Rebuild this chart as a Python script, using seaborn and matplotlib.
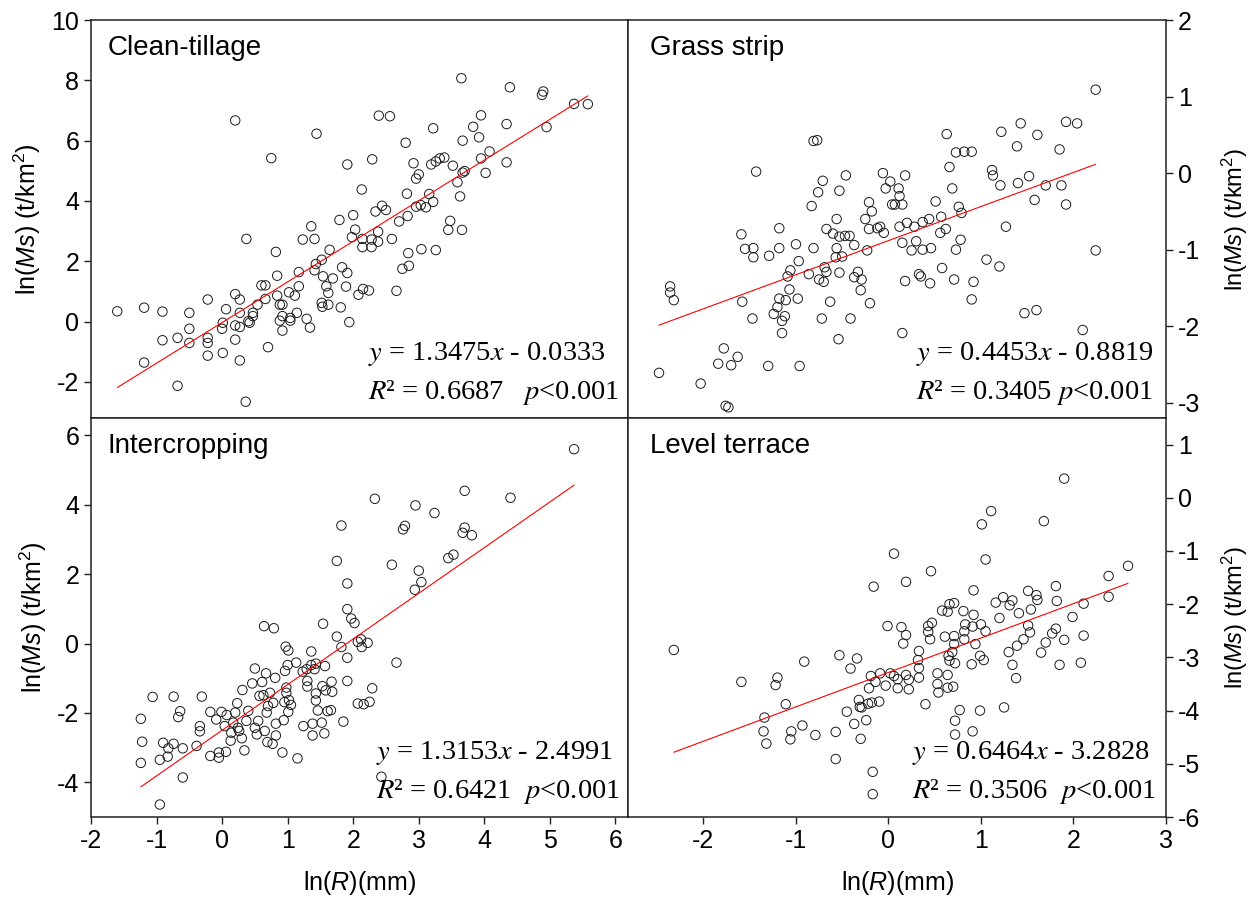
import numpy as np
import pandas as pd
import matplotlib
matplotlib.use('Agg')
import matplotlib.pyplot as plt
import seaborn as sns

# ln(R), ln(Ms) pairs
clean_tillage = [
    (-1.60, 0.34), (-1.19, 0.46), (-1.19, -1.36), (-0.91, 0.33), (-0.91, -0.62), (-0.68, -0.54),
    (-0.68, -2.13), (-0.50, 0.29), (-0.50, -0.24), (-0.50, -0.71), (-0.22, 0.73), (-0.22, -0.54),
    (-0.22, -0.71), (-0.22, -1.13), (0.01, -1.04), (0.00, -0.24), (0.01, -0.04), (0.06, 0.41),
    (0.20, 6.67), (0.20, 0.91), (0.20, -0.13), (0.20, -0.60), (0.27, 0.73), (0.27, 0.29),
    (0.27, -0.18), (0.27, -1.29), (0.36, -2.66), (0.37, 2.74), (0.40, 0.01), (0.42, -0.04),
    (0.47, 0.29), (0.47, 0.18), (0.54, 0.56), (0.60, 1.20), (0.66, 0.75), (0.66, 1.20),
    (0.70, -0.85), (0.75, 5.42), (0.82, 2.31), (0.84, 1.52), (0.84, 0.86), (0.88, 0.56),
    (0.92, 0.56), (0.88, 0.03), (0.92, -0.30), (0.92, 0.18), (1.02, 0.97), (1.04, 0.03),
    (1.04, 0.12), (1.11, 0.86), (1.14, 0.29), (1.17, 1.17), (1.17, 1.64), (1.23, 2.72),
    (1.29, 0.09), (1.34, -0.20), (1.36, 3.16), (1.41, 2.74), (1.44, 6.23), (1.43, 1.91),
    (1.41, 1.70), (1.52, 2.05), (1.54, 1.50), (1.52, 0.62), (1.53, 0.49), (1.59, 1.17),
    (1.62, 0.95), (1.62, 0.56), (1.64, 2.38),
    (3.65, 8.07), (4.39, 7.77), (4.90, 7.63), (4.88, 7.52), (5.37, 7.22), (5.58, 7.21),
    (4.95, 6.45), (2.39, 6.83), (2.56, 6.81), (3.22, 6.41), (3.95, 6.84), (3.83, 6.46),
    (4.34, 6.55), (2.80, 5.93), (3.67, 6.00), (3.92, 6.11), (1.91, 5.21), (2.29, 5.38),
    (2.92, 5.25), (3.19, 5.21), (3.26, 5.31), (3.32, 5.41), (3.39, 5.44), (3.52, 5.17),
    (3.95, 5.41), (4.08, 5.64), (4.34, 5.28), (3.00, 4.88), (2.96, 4.74), (3.70, 4.99),
    (3.67, 4.94), (4.02, 4.93), (3.59, 4.62), (2.13, 4.38), (2.82, 4.24), (3.16, 4.23),
    (3.63, 4.15), (2.34, 3.65), (2.44, 3.84), (2.50, 3.70), (2.96, 3.81), (3.03, 3.86),
    (3.11, 3.79), (3.22, 3.97), (1.79, 3.37), (2.00, 3.53), (2.83, 3.50), (2.70, 3.32),
    (2.03, 3.05), (1.98, 2.80), (2.38, 2.98), (2.59, 2.74), (2.14, 2.74), (2.14, 2.47),
    (2.28, 2.72), (2.28, 2.47), (2.38, 2.65), (3.48, 3.34), (3.45, 3.04), (3.66, 3.04),
    (2.84, 2.27), (3.04, 2.40), (3.26, 2.37), (2.85, 1.85), (2.75, 1.75), (1.83, 1.80),
    (1.91, 1.61), (1.69, 1.43), (1.89, 1.16), (2.15, 1.08), (2.08, 0.89), (2.24, 1.03),
    (2.66, 1.02), (1.81, 0.47), (1.94, -0.02),
]

grass_strip = [
    (-2.48, -2.61), (-2.36, -1.48), (-2.36, -1.56), (-2.32, -1.66), (-2.03, -2.75), (-1.78, -2.29),
    (-1.84, -2.49), (-1.70, -2.51), (-1.63, -2.40), (-1.76, -3.04), (-1.73, -3.06), (-1.59, -0.80),
    (-1.55, -0.99), (-1.46, -0.98), (-1.46, -1.10), (-1.58, -1.68), (-1.47, -1.90), (-1.43, 0.02),
    (-1.29, -1.08), (-1.30, -2.52), (-1.18, -0.72), (-1.18, -0.98), (-1.18, -1.64), (-1.20, -1.75),
    (-1.24, -1.84), (-1.11, -1.66), (-1.12, -1.87), (-1.15, -1.93), (-1.15, -2.09), (-1.06, -1.27),
    (-1.09, -1.35), (-1.07, -1.52), (-1.00, -0.93), (-0.97, -1.15), (-0.98, -1.64), (-0.96, -2.52),
    (-0.86, -1.32), (-0.83, -0.43), (-0.81, 0.42), (-0.77, 0.43), (-0.76, -0.25), (-0.71, -0.10),
    (-0.81, -0.98), (-0.69, -1.23), (-0.67, -1.29), (-0.75, -1.39), (-0.70, -1.42), (-0.72, -1.90),
    (-0.63, -1.68), (-0.67, -0.73), (-0.60, -0.79), (-0.53, -0.23), (-0.56, -0.60), (-0.53, -0.83),
    (-0.46, -0.03), (-0.47, -0.82), (-0.42, -0.82), (-0.56, -0.98), (-0.57, -1.10), (-0.50, -1.09),
    (-0.53, -1.30), (-0.54, -2.17), (-0.41, -1.90), (-0.37, -0.94), (-0.37, -1.36), (-0.33, -1.29),
    (-0.29, -1.39), (-0.30, -1.53), (-0.20, -1.70), (-0.21, -0.38), (-0.18, -0.50), (-0.25, -0.60),
    (-0.21, -0.73), (-0.23, -1.01), (-0.12, -0.72), (-0.09, -0.70), (-0.06, 0.00), (0.02, -0.11),
    (-0.03, -0.20), (0.04, -0.41), (-0.05, -0.78),
    (2.24, 1.09), (1.92, 0.67), (2.04, 0.65), (1.43, 0.65), (1.22, 0.54), (1.61, 0.50),
    (0.63, 0.51), (1.39, 0.35), (1.85, 0.31), (0.73, 0.27), (0.82, 0.28), (0.90, 0.28),
    (0.66, 0.08), (1.12, 0.04), (1.13, -0.03), (1.52, -0.04), (0.18, -0.03), (1.21, -0.16),
    (1.40, -0.13), (1.70, -0.16), (1.87, -0.16), (0.69, -0.20), (0.11, -0.20), (0.12, -0.30),
    (0.15, -0.41), (0.07, -0.41), (0.51, -0.37), (1.58, -0.35), (1.92, -0.41), (0.76, -0.44),
    (0.79, -0.52), (0.57, -0.57), (0.44, -0.60), (0.37, -0.64), (0.28, -0.70), (0.20, -0.65),
    (0.12, -0.70), (0.62, -0.73), (0.56, -0.78), (1.27, -0.70), (0.15, -0.91), (0.30, -0.89),
    (0.25, -1.01), (0.37, -1.00), (0.46, -0.98), (0.78, -0.87), (0.73, -1.00), (2.24, -1.01),
    (1.06, -1.13), (1.20, -1.22), (0.58, -1.24), (0.33, -1.32), (0.35, -1.35), (0.18, -1.41),
    (0.45, -1.44), (0.71, -1.39), (0.92, -1.42), (0.90, -1.65), (1.47, -1.83), (1.60, -1.79),
    (2.10, -2.05), (0.15, -2.09),
]

intercropping = [
    (-1.24, -2.17), (-1.22, -2.83), (-1.24, -3.44), (-1.06, -1.54), (-0.95, -3.35), (-0.95, -4.64),
    (-0.90, -2.86), (-0.82, -3.02), (-0.83, -3.26), (-0.74, -1.53), (-0.74, -2.89), (-0.64, -1.95),
    (-0.67, -2.12), (-0.60, -3.02), (-0.60, -3.86), (-0.39, -2.95), (-0.34, -2.38), (-0.34, -2.53),
    (-0.31, -1.53), (-0.18, -1.97), (-0.18, -3.24), (-0.09, -2.19), (-0.05, -3.29), (-0.05, -3.14),
    (-0.01, -1.97), (0.04, -2.38), (0.06, -3.12), (0.07, -2.06), (0.14, -2.57), (0.13, -2.80),
    (0.17, -2.28), (0.20, -1.99), (0.23, -1.72), (0.24, -2.43), (0.26, -2.52), (0.30, -2.73),
    (0.34, -3.08), (0.37, -2.23), (0.40, -1.94), (0.31, -1.34), (0.46, -1.15), (0.50, -0.72),
    (0.50, -2.43), (0.53, -2.62), (0.55, -2.23), (0.57, -1.51), (0.61, -1.11), (0.63, -1.49),
    (0.64, 0.50), (0.65, -2.52), (0.67, -0.86), (0.68, -1.99), (0.69, -2.84), (0.70, -1.80),
    (0.73, -1.42), (0.77, -2.89), (0.79, 0.44), (0.78, -1.71), (0.82, -2.31), (0.82, -2.65),
    (0.81, -0.99), (0.92, -3.14), (0.94, -2.21), (0.96, -0.79), (0.97, -0.09), (1.01, -0.20),
    (0.98, -1.27), (0.98, -1.42), (1.00, -0.62), (0.95, -1.69), (1.02, -1.63), (1.05, -1.77),
    (1.01, -1.97), (1.13, -0.55), (1.15, -3.31), (1.23, -0.81), (1.24, -2.38), (1.29, -0.74),
    (1.30, -1.08), (1.30, -1.24), (1.36, -0.23), (1.36, -0.62), (1.38, -2.31), (1.38, -2.65),
    (1.41, -0.74), (1.43, -1.44), (1.43, -1.64), (1.43, -0.58), (1.46, -1.93), (1.52, -2.28),
    (1.53, -1.23), (1.54, 0.57), (1.57, -0.65), (1.56, -2.59), (1.58, -1.35), (1.61, -1.95),
    (5.37, 5.60), (3.70, 4.40), (4.40, 4.20), (2.33, 4.17), (2.95, 3.98), (3.24, 3.76),
    (1.82, 3.40), (2.79, 3.39), (2.76, 3.29), (3.70, 3.34), (3.67, 3.19), (3.81, 3.12),
    (3.45, 2.46), (3.53, 2.56), (1.75, 2.38), (2.59, 2.27), (3.00, 2.10), (3.04, 1.77),
    (2.94, 1.55), (1.91, 1.73), (1.91, 0.99), (1.97, 0.72), (2.02, 0.59), (1.75, 0.20),
    (1.82, -0.10), (2.07, 0.05), (2.12, 0.12), (2.13, -0.10), (2.22, 0.02), (1.91, -0.41),
    (2.66, -0.55), (1.67, -1.10), (1.68, -1.39), (1.91, -1.08), (2.29, -1.29), (2.07, -1.73),
    (2.16, -1.75), (2.25, -1.68), (1.66, -1.92), (1.85, -2.25), (2.43, -3.84),
]

level_terrace = [
    (-2.32, -2.86), (-1.59, -3.46), (-1.20, -3.38), (-1.22, -3.52), (-1.11, -3.88), (-1.34, -4.13),
    (-1.35, -4.39), (-1.32, -4.62), (-1.05, -4.39), (-1.06, -4.54), (-0.93, -4.28), (-0.91, -3.08),
    (-0.79, -4.46), (-0.57, -4.40), (-0.57, -4.91), (-0.53, -2.96), (-0.41, -3.21), (-0.34, -3.02),
    (-0.45, -4.02), (-0.37, -4.25), (-0.30, -4.53), (-0.24, -4.18), (-0.32, -3.80), (-0.31, -3.93),
    (-0.29, -3.94), (-0.22, -3.87), (-0.18, -3.85), (-0.10, -3.83), (-0.21, -3.58), (-0.19, -3.35),
    (-0.14, -3.46), (-0.09, -3.30), (-0.03, -3.53), (0.02, -3.30), (0.06, -3.35), (-0.16, -1.67),
    (-0.01, -2.41), (-0.17, -5.15), (-0.17, -5.57), (0.06, -1.05),
    (1.90, 0.36), (1.11, -0.25), (1.01, -0.50), (1.68, -0.44), (1.05, -1.16), (2.59, -1.28),
    (2.38, -1.47), (0.46, -1.38), (0.19, -1.58), (2.38, -1.86), (1.81, -1.66), (0.92, -1.74),
    (1.51, -1.75), (1.60, -1.83), (1.61, -1.92), (1.82, -1.94), (2.11, -1.99), (1.24, -1.87),
    (1.34, -1.93), (1.16, -1.97), (1.31, -2.02), (1.54, -2.10), (1.41, -2.17), (1.20, -2.26),
    (1.99, -2.24), (0.66, -2.00), (0.71, -1.98), (0.64, -2.14), (0.58, -2.12), (0.81, -2.13),
    (0.92, -2.20), (0.47, -2.35), (0.43, -2.41), (0.43, -2.52), (0.45, -2.66), (0.14, -2.43),
    (0.19, -2.58), (0.16, -2.74), (0.83, -2.38), (0.91, -2.42), (1.00, -2.38), (1.05, -2.51),
    (0.82, -2.51), (0.82, -2.66), (0.71, -2.60), (0.61, -2.61), (0.71, -2.75), (0.94, -2.75),
    (1.51, -2.40), (1.53, -2.53), (1.46, -2.66), (1.39, -2.78), (1.77, -2.55), (1.81, -2.46),
    (1.90, -2.67), (2.11, -2.59), (1.70, -2.72), (1.65, -2.91), (1.30, -2.90), (1.34, -3.14),
    (1.38, -3.39), (1.85, -3.14), (2.08, -3.10), (0.33, -2.88), (0.32, -3.05), (0.33, -3.20),
    (0.33, -3.38), (0.65, -2.97), (0.69, -2.90), (0.66, -3.06), (0.72, -3.11), (0.90, -3.13),
    (0.99, -2.97), (1.03, -3.05), (0.19, -3.33), (0.22, -3.42), (0.22, -3.60), (0.10, -3.41),
    (0.10, -3.58), (0.53, -3.30), (0.53, -3.50), (0.54, -3.66), (0.64, -3.33), (0.64, -3.57),
    (0.70, -3.55), (0.40, -3.88), (0.77, -3.99), (0.72, -4.19), (0.72, -4.45), (0.99, -4.00),
    (0.91, -4.39), (1.25, -3.94),
]

names = ['Clean-tillage', 'Grass strip', 'Intercropping', 'Level terrace']
slopes = [1.3475, 0.4453, 1.3153, 0.6464]
intercepts = [-0.0333, -0.8819, -2.4991, -3.2828]
eq_texts = [r'$y$ = 1.3475$x$ - 0.0333', r'$y$ = 0.4453$x$ - 0.8819',
            r'$y$ = 1.3153$x$ - 2.4991', r'$y$ = 0.6464$x$ - 3.2828']
r2_texts = [r'$R$² = 0.6687   $p$<0.001', r'$R$² = 0.3405 $p$<0.001',
            r'$R$² = 0.6421  $p$<0.001', r'$R$² = 0.3506  $p$<0.001']

sns.set_style('ticks')
plt.rcParams['font.family'] = ['Liberation Sans', 'DejaVu Sans']
plt.rcParams['mathtext.fontset'] = 'custom'
plt.rcParams['mathtext.rm'] = 'Liberation Sans'
plt.rcParams['mathtext.it'] = 'Liberation Sans:italic'
plt.rcParams['axes.unicode_minus'] = False
plt.rcParams['axes.edgecolor'] = '#222222'
plt.rcParams['axes.linewidth'] = 1.1
plt.rcParams['text.color'] = 'black'
plt.rcParams['axes.labelcolor'] = 'black'
plt.rcParams['xtick.color'] = 'black'
plt.rcParams['ytick.color'] = 'black'

fig = plt.figure(figsize=(12.59, 9.07), dpi=100)
boxes = [[0.0723, 0.5391, 0.4269, 0.4388], [0.4992, 0.5391, 0.4269, 0.4388],
         [0.0723, 0.0992, 0.4269, 0.4400], [0.4992, 0.0992, 0.4269, 0.4400]]
xlims = [(-2, 6.2), (-2.81, 3), (-2, 6.2), (-2.81, 3)]
ylims = [(-3.2, 10), (-3.2, 2), (-5, 6.5), (-6, 1.5)]
yticks = [np.arange(-2, 11, 2), np.arange(-3, 3, 1), np.arange(-4, 7, 2), np.arange(-6, 2, 1)]
xticks = [None, None, np.arange(-2, 7, 1), np.arange(-2, 4, 1)]
datasets = [clean_tillage, grass_strip, intercropping, level_terrace]
ylab = r'ln($\mathit{Ms}$) (t/km$^2$)'

for i in range(4):
    ax = fig.add_axes(boxes[i])
    df = pd.DataFrame(datasets[i], columns=['lnR', 'lnMs'])
    sns.scatterplot(data=df, x='lnR', y='lnMs', ax=ax, s=46, marker='o',
                    facecolor='none', edgecolor='#1a1a1a', linewidth=0.7)
    xs = np.array([df['lnR'].min(), df['lnR'].max()])
    sns.lineplot(x=xs, y=slopes[i] * xs + intercepts[i], ax=ax, color='red', linewidth=0.8)

    ax.set_xlim(xlims[i])
    ax.set_ylim(ylims[i])
    ax.set_yticks(yticks[i])
    ax.tick_params(axis='both', direction='out', length=5, width=1.0, labelsize=18, color='#222222')

    if i < 2:
        ax.tick_params(axis='x', bottom=False, labelbottom=False)
        ax.set_xlabel('')
    else:
        ax.set_xticks(xticks[i])
        ax.set_xlabel(r'ln($\mathit{R}$)(mm)', fontsize=18, labelpad=12)

    if i % 2 == 1:
        ax.yaxis.tick_right()
        ax.yaxis.set_label_position('right')
        ax.set_ylabel(ylab, fontsize=17, labelpad=14)
    else:
        ax.set_ylabel(ylab, fontsize=18, labelpad=6)

    tx = 0.03 if i % 2 == 0 else 0.04
    ax.text(tx, 0.93, names[i], transform=ax.transAxes, fontsize=20, va='center', ha='left')
    ex = [0.516, 0.534, 0.531, 0.527][i]
    ax.text(ex, 0.161, eq_texts[i], transform=ax.transAxes, fontsize=20.5, va='center',
            ha='left', fontfamily='Liberation Serif', math_fontfamily='stix')
    ax.text(ex, 0.063, r2_texts[i], transform=ax.transAxes, fontsize=20.5, va='center',
            ha='left', fontfamily='Liberation Serif', math_fontfamily='stix')

fig.savefig('out.png', dpi=100, facecolor='white')
